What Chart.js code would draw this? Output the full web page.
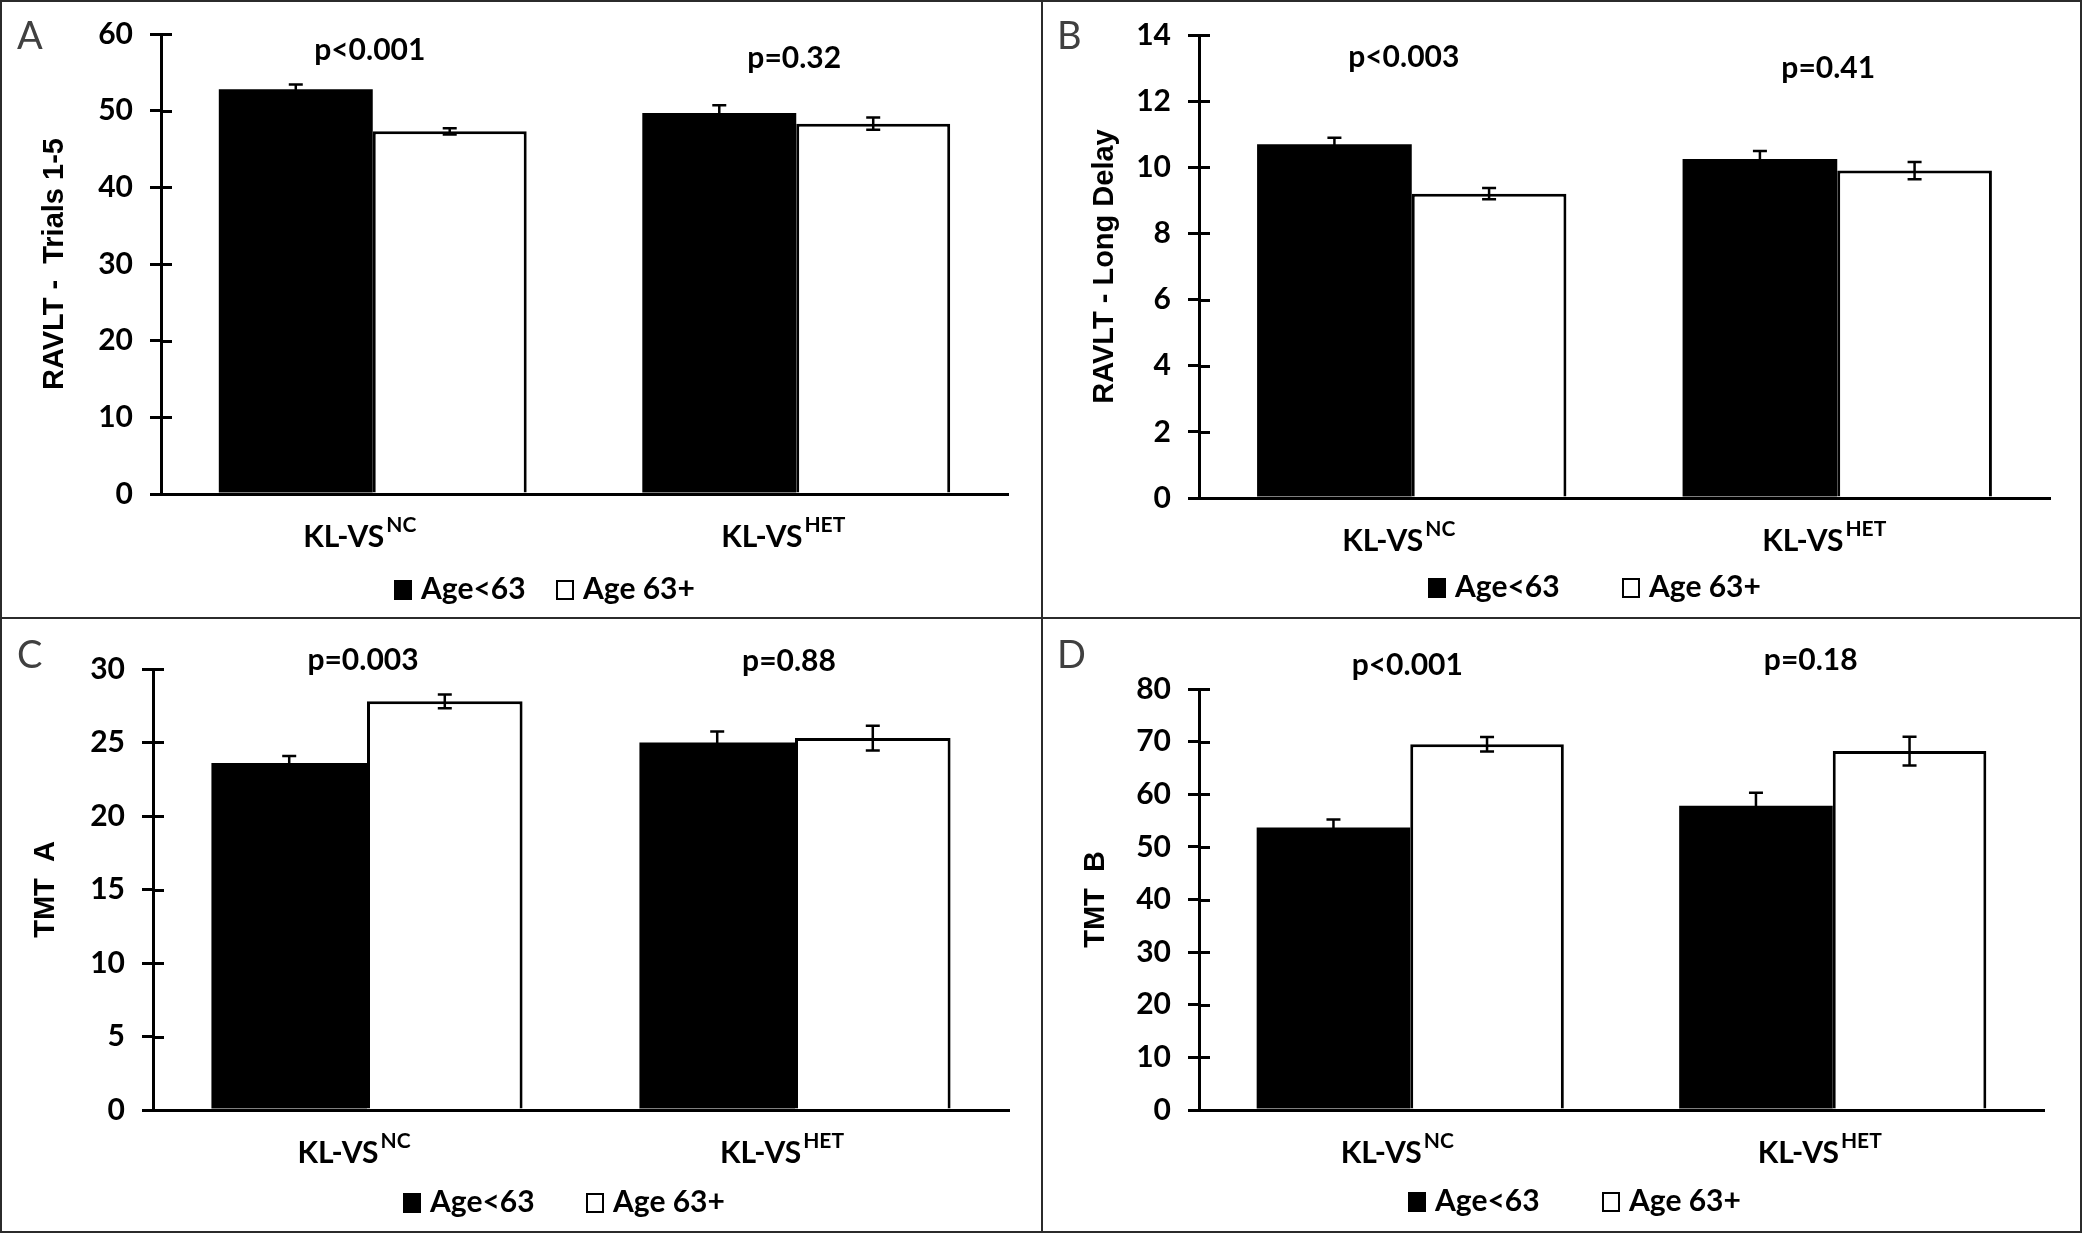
<!DOCTYPE html>
<html>
<head>
<meta charset="utf-8">
<script src="https://cdn.jsdelivr.net/npm/chart.js@4.4.1/dist/chart.umd.min.js"></script>
<style>
  html, body { margin: 0; padding: 0; background: #fff; }
  #figure { position: relative; width: 2082px; height: 1233px; box-sizing: border-box; border: 2px solid #2b2b2b; overflow: hidden; }
  .panel { position: absolute; }
  .vline { position: absolute; left: 1039px; top: 0; width: 2px; height: 1233px; background: #2b2b2b; z-index: 5; }
  .hline { position: absolute; left: 0; top: 615px; width: 2082px; height: 2px; background: #2b2b2b; z-index: 5; }
</style>
</head>
<body>
<div id="figure">
  <div class="panel" style="left:0;top:0;width:1040px;height:616px"><canvas id="chartA"></canvas></div>
  <div class="panel" style="left:1040px;top:0;width:1042px;height:616px"><canvas id="chartB"></canvas></div>
  <div class="panel" style="left:0;top:616px;width:1040px;height:617px"><canvas id="chartC"></canvas></div>
  <div class="panel" style="left:1040px;top:616px;width:1042px;height:617px"><canvas id="chartD"></canvas></div>
  <div class="vline"></div>
  <div class="hline"></div>
</div>
<script>
const groups = ["KL-VS^NC", "KL-VS^HET"];
const seriesLabels = ["Age<63", "Age 63+"];

// A: RAVLT trials 1-5
const ravltTrialsYoung = [52.8, 49.7];
const ravltTrialsYoungErr = [0.6, 1.0];
const ravltTrialsOld = [47.3, 48.3];
const ravltTrialsOldErr = [0.4, 0.8];
const ravltTrialsP = ["p<0.001", "p=0.32"];
const ravltTrialsAxis = [0, 60, 10];

// B: RAVLT long delay
const ravltDelayYoung = [10.7, 10.25];
const ravltDelayYoungErr = [0.19, 0.24];
const ravltDelayOld = [9.2, 9.9];
const ravltDelayOldErr = [0.17, 0.26];
const ravltDelayP = ["p<0.003", "p=0.41"];
const ravltDelayAxis = [0, 14, 2];

// C: TMT A
const tmtAYoung = [23.6, 25.0];
const tmtAYoungErr = [0.48, 0.75];
const tmtAOld = [27.8, 25.3];
const tmtAOldErr = [0.47, 0.84];
const tmtAP = ["p=0.003", "p=0.88"];
const tmtAAxis = [0, 30, 5];

// D: TMT B
const tmtBYoung = [53.7, 57.8];
const tmtBYoungErr = [1.5, 2.47];
const tmtBOld = [69.5, 68.2];
const tmtBOldErr = [1.38, 2.73];
const tmtBP = ["p<0.001", "p=0.18"];
const tmtBAxis = [0, 80, 10];

const FONT = "Lato, 'Open Sans', sans-serif";
const TITLE_FONT = "'Liberation Sans', Arial, sans-serif";

const decor = {
  id: "decor",
  afterDatasetsDraw(chart, args, opts) {
    const ctx = chart.ctx;
    const y = chart.scales.y;
    ctx.save();
    ctx.strokeStyle = "#000";
    ctx.lineWidth = 2.5;
    chart.data.datasets.forEach((ds, i) => {
      const meta = chart.getDatasetMeta(i);
      meta.data.forEach((bar, j) => {
        const v = ds.data[j];
        const e = opts.errors[i][j];
        const yt = y.getPixelForValue(v + e);
        const yb = y.getPixelForValue(v - e);
        ctx.beginPath();
        ctx.moveTo(bar.x, yt); ctx.lineTo(bar.x, yb);
        ctx.moveTo(bar.x - 7, yt); ctx.lineTo(bar.x + 7, yt);
        ctx.moveTo(bar.x - 7, yb); ctx.lineTo(bar.x + 7, yb);
        ctx.stroke();
      });
    });
    ctx.restore();
  },
  afterDraw(chart, args, opts) {
    const ctx = chart.ctx;
    const area = chart.chartArea;
    const x = chart.scales.x;
    const y = chart.scales.y;
    ctx.save();

    // tick marks crossing into the plot
    ctx.strokeStyle = "#000";
    ctx.lineWidth = 3;
    y.ticks.forEach((t, k) => {
      const py = Math.round(y.getPixelForTick(k)) + 0.5;
      ctx.beginPath();
      ctx.moveTo(area.left, py); ctx.lineTo(area.left + 11, py);
      ctx.stroke();
    });

    ctx.fillStyle = "#000";
    ctx.textBaseline = "alphabetic";

    // category labels with superscript
    chart.data.labels.forEach((lab, j) => {
      const parts = lab.split("^");
      const cx = x.getPixelForValue(j) - 13;
      const base = area.bottom + 53;
      ctx.font = "bold 30px " + FONT;
      const w1 = ctx.measureText(parts[0]).width;
      ctx.font = "bold 21px " + FONT;
      const w2 = ctx.measureText(parts[1]).width + 2;
      const sx = cx - (w1 + w2) / 2;
      ctx.textAlign = "left";
      ctx.font = "bold 30px " + FONT;
      ctx.fillText(parts[0], sx, base);
      ctx.font = "bold 21px " + FONT;
      ctx.fillText(parts[1], sx + w1 + 2, base - 15);
    });

    // p values
    ctx.font = "bold 30px " + FONT;
    ctx.textAlign = "center";
    opts.pLabels.forEach((p, j) => {
      ctx.fillText(p, x.getPixelForValue(j) + opts.pDx[j], opts.pBase[j]);
    });

    // legend
    chart.data.datasets.forEach((ds, i) => {
      const lx = opts.legendX[i];
      const lb = opts.legendBase;
      ctx.fillStyle = ds.backgroundColor;
      ctx.fillRect(lx, lb - 19, 18, 20);
      if (ds.borderWidth) {
        ctx.strokeStyle = "#000";
        ctx.lineWidth = 2;
        ctx.strokeRect(lx + 1, lb - 18, 16, 18);
      }
      ctx.fillStyle = "#000";
      ctx.textAlign = "left";
      ctx.font = "bold 30px " + FONT;
      ctx.fillText(ds.label, lx + 27, lb);
    });

    // panel letter
    ctx.fillStyle = "#404040";
    ctx.font = "38px " + FONT;
    ctx.textAlign = "left";
    ctx.fillText(opts.letter, 15, opts.letterBase);
    ctx.restore();
  }
};

function makePanel(id, p) {
  new Chart(document.getElementById(id), {
    type: "bar",
    data: {
      labels: groups,
      datasets: [
        { label: seriesLabels[0], data: p.young, backgroundColor: "#000000", borderWidth: 0 },
        { label: seriesLabels[1], data: p.old, backgroundColor: "#ffffff", borderColor: "#000000", borderWidth: 3 },
      ],
    },
    options: {
      responsive: true,
      maintainAspectRatio: false,
      animation: false,
      layout: { padding: { left: 0, top: p.top, right: p.right, bottom: 0 } },
      datasets: { bar: { categoryPercentage: 0.727, barPercentage: 1.0 } },
      plugins: {
        legend: { display: false },
        tooltip: { enabled: false },
        decor: {
          errors: [p.youngErr, p.oldErr],
          pLabels: p.pLabels,
          pDx: p.pDx,
          pBase: p.pBase,
          legendX: p.legendX,
          legendBase: p.legendBase,
          letter: p.letter,
          letterBase: p.letterBase,
        },
      },
      scales: {
        x: {
          grid: { display: false },
          border: { display: true, color: "#000", width: 3, z: 1 },
          ticks: { display: false },
          afterFit: (scale) => { scale.height = p.xHeight; },
        },
        y: {
          min: p.axis[0],
          max: p.axis[1],
          grid: { drawOnChartArea: false, drawTicks: true, tickLength: 11, color: "#000", lineWidth: 3 },
          border: { display: true, color: "#000", width: 3, z: 1 },
          ticks: {
            stepSize: p.axis[2],
            padding: 17,
            color: "#000",
            font: { family: FONT, size: 30, weight: "bold" },
          },
          title: {
            display: true,
            text: p.title,
            color: "#000",
            font: { family: TITLE_FONT, size: 29, weight: "bold" },
            padding: { top: p.titlePad, bottom: 0 },
          },
          afterFit: (scale) => {
            scale.width = p.left;
            scale.paddingTop = 0;
            scale.paddingBottom = 0;
          },
        },
      },
    },
    plugins: [decor],
  });
}

makePanel("chartA", {
  young: ravltTrialsYoung, youngErr: ravltTrialsYoungErr, old: ravltTrialsOld, oldErr: ravltTrialsOldErr,
  pLabels: ravltTrialsP, axis: ravltTrialsAxis, title: "RAVLT -  Trials 1-5", letter: "A",
  left: 159, top: 32, right: 34, xHeight: 124, titlePad: 36,
  pDx: [-3, -2], pBase: [58, 66], legendX: [392, 554], legendBase: 597, letterBase: 47,
});
makePanel("chartB", {
  young: ravltDelayYoung, youngErr: ravltDelayYoungErr, old: ravltDelayOld, oldErr: ravltDelayOldErr,
  pLabels: ravltDelayP, axis: ravltDelayAxis, title: "RAVLT - Long Delay", letter: "B",
  left: 157, top: 33, right: 34, xHeight: 120, titlePad: 46,
  pDx: [-8, -9], pBase: [65, 76], legendX: [386, 580], legendBase: 595, letterBase: 47,
});
makePanel("chartC", {
  young: tmtAYoung, youngErr: tmtAYoungErr, old: tmtAOld, oldErr: tmtAOldErr,
  pLabels: tmtAP, axis: tmtAAxis, title: "TMT  A", letter: "C",
  left: 151, top: 51, right: 33, xHeight: 125, titlePad: 27,
  pDx: [-4, -6], pBase: [52, 53], legendX: [401, 584], legendBase: 594, letterBase: 50,
});
makePanel("chartD", {
  young: tmtBYoung, youngErr: tmtBYoungErr, old: tmtBOld, oldErr: tmtBOldErr,
  pLabels: tmtBP, axis: tmtBAxis, title: "TMT  B", letter: "D",
  left: 157, top: 71, right: 40, xHeight: 125, titlePad: 37,
  pDx: [-3, -22], pBase: [57, 52], legendX: [366, 560], legendBase: 593, letterBase: 50,
});
</script>
</body>
</html>
